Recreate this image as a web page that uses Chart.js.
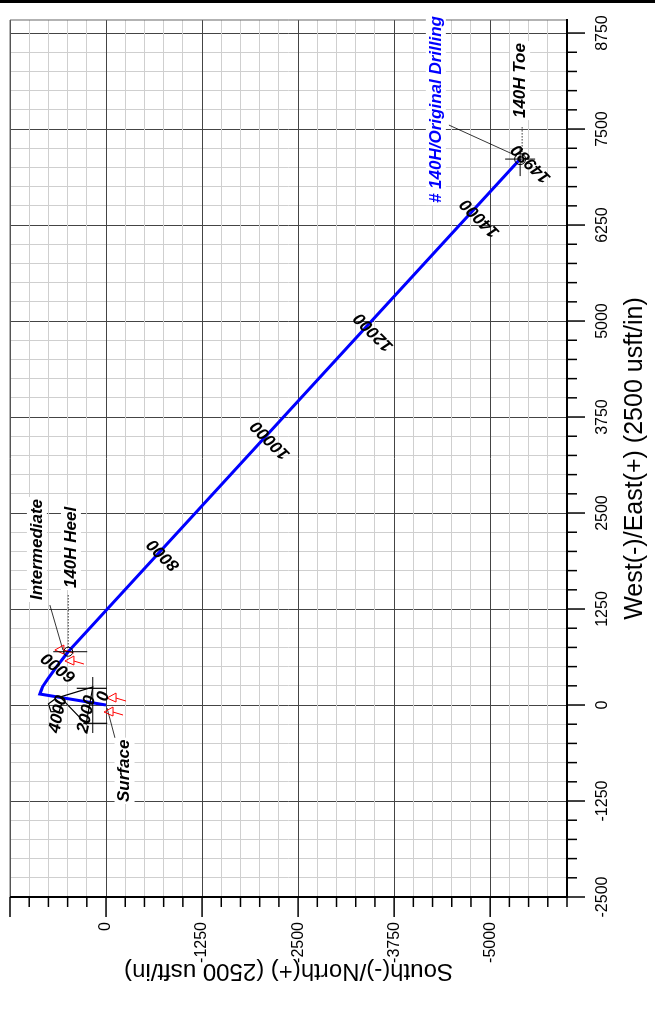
<!DOCTYPE html>
<html>
<head>
<meta charset="utf-8">
<script src="https://cdn.jsdelivr.net/npm/chart.js@4.4.1/dist/chart.umd.min.js"></script>
<style>
html, body { margin: 0; padding: 0; background: #fff; overflow: hidden; }
#wrap { position: absolute; left: 0; top: 0; width: 1011px; height: 655px;
        transform-origin: 0 0; transform: translate(0px, 1011px) rotate(-90deg); }
</style>
</head>
<body>
<div id="wrap"><canvas id="plan" width="1011" height="655"></canvas></div>
<script>
// plan view of the well path, usft (x = West(-)/East(+), y = South(-)/North(+))
const pathEW = [0, 143, 200, 238, 300, 348, 420, 499, 594, 694, 7109];
const pathNS = [0, 861, 840, 826, 786, 753, 700, 643, 570, 492, -5390];

// axis labels
const ewTicks = [-2500, -1250, 0, 1250, 2500, 3750, 5000, 6250, 7500, 8750];
const nsTicks = [0, -1250, -2500, -3750, -5000];

// measured depth labels along the path
const mdLabels = ['0', '2000', '4000', '6000', '8000', '10000', '12000', '14000', '14980'];
const mdEW = [111, -121, -121, 491, 1953, 3450, 4856, 6341, 7050];
const mdNS = [33, 252, 622, 613, -748, -2140, -3484, -4868, -5533];

// heel / toe targets
const targetEW = [694, 7109];
const targetNS = [492, -5390];

// casing points
const casingEW = [91, -91, 716, 573];
const casingNS = [-13, 26, 666, 535];

// text notes
const noteLabels = ['Surface', 'Intermediate', '140H Heel', '140H Toe', '# 140H/Original Drilling'];
const noteEW = [-1263, 1367, 1523, 7643, 6536];
const noteNS = [-241, 900, 457, -5390, -4293];

const FONT = '"Liberation Sans", Arial, sans-serif';
Chart.defaults.font.family = FONT;
Chart.defaults.color = '#000';

function seg(ctx, x1, y1, x2, y2) {
    ctx.beginPath();
    ctx.moveTo(x1, y1);
    ctx.lineTo(x2, y2);
    ctx.stroke();
}

const decor = {
    id: 'decor',
    afterDatasetsDraw(chart) {
        const ctx = chart.ctx;
        const a = chart.chartArea;
        const x = chart.scales.x;
        const y = chart.scales.y;
        const px = v => x.getPixelForValue(v);
        const py = v => y.getPixelForValue(v);

        ctx.save();
        // frame
        ctx.strokeStyle = '#666';
        ctx.lineWidth = 1;
        seg(ctx, a.left, a.top, a.right, a.top);
        seg(ctx, a.right, a.top, a.right, a.bottom);
        ctx.strokeStyle = '#000';
        ctx.lineWidth = 2;
        seg(ctx, a.left, a.bottom, a.right + 1, a.bottom);
        seg(ctx, a.left, a.top, a.left, a.bottom + 1);

        // outer tick marks
        ctx.lineWidth = 1.5;
        x.ticks.forEach(t => {
            const p = px(t.value);
            const len = t.value % 1250 === 0 ? 18 : 10;
            seg(ctx, p, a.bottom, p, a.bottom + len);
        });
        y.ticks.forEach(t => {
            const p = py(t.value);
            const len = t.value % 1250 === 0 ? 20 : 10;
            seg(ctx, a.left, p, a.left - len, p);
        });

        // sheet border line
        ctx.fillStyle = '#000';
        ctx.fillRect(chart.width - 3, 0, 3, chart.height);

        // structure near surface (drawn in the page's frame)
        ctx.save();
        ctx.translate(px(0), py(0));
        ctx.rotate(Math.PI / 2);
        ctx.strokeStyle = '#000';
        ctx.lineWidth = 1.2;
        seg(ctx, -13.3, -28, -13.3, 28);
        seg(ctx, -29.3, -16.7, 0.7, -16.7);
        seg(ctx, -22.7, 18.3, 1.3, 18.3);
        ctx.beginPath();
        ctx.moveTo(-46, -8);
        ctx.lineTo(-13.3, -18);
        ctx.lineTo(-20, 19);
        ctx.closePath();
        ctx.stroke();
        ctx.beginPath();
        for (let i = 0; i < 5; i++) {
            const ang = -Math.PI / 2 + i * 2 * Math.PI / 5;
            const ux = -51 + 7 * Math.cos(ang), uy = 1 + 7 * Math.sin(ang);
            if (i === 0) ctx.moveTo(ux, uy); else ctx.lineTo(ux, uy);
        }
        ctx.closePath();
        ctx.stroke();
        ctx.restore();

        // leader lines
        ctx.strokeStyle = '#000';
        ctx.lineWidth = 0.8;
        const leaders = [
            [-39, -13, -430, -117, false],
            [1302, 731, 716, 561, false],
            [1432, 492, 742, 492, true],
            [7526, -5416, 7200, -5416, true],
            [7552, -4463, 7148, -5350, false]
        ];
        leaders.forEach(l => {
            ctx.setLineDash(l[4] ? [1.5, 1.5] : []);
            seg(ctx, px(l[0]), py(l[1]), px(l[2]), py(l[3]));
        });
        ctx.setLineDash([]);

        // casing flags
        ctx.strokeStyle = '#ff0000';
        ctx.lineWidth = 1;
        casingEW.forEach((e, i) => {
            ctx.save();
            ctx.translate(px(e), py(casingNS[i]));
            ctx.rotate(Math.PI / 2);
            ctx.beginPath();
            ctx.moveTo(0, 0);
            ctx.lineTo(9, -5);
            ctx.lineTo(9, 4);
            ctx.closePath();
            ctx.stroke();
            seg(ctx, 9, 0, 19, 3);
            ctx.restore();
        });

        // heel and toe markers
        ctx.strokeStyle = '#000';
        ctx.lineWidth = 1;
        const hx = px(targetEW[0]), hy = py(targetNS[0]);
        ctx.beginPath();
        ctx.arc(hx, hy, 4.5, 0, Math.PI * 2);
        ctx.stroke();
        seg(ctx, hx, hy - 15, hx, hy + 19);
        const tx = px(targetEW[1]), ty = py(targetNS[1]);
        ctx.beginPath();
        ctx.arc(tx, ty, 5.5, 0, Math.PI * 2);
        ctx.stroke();
        seg(ctx, tx, ty - 15, tx, ty + 15);
        seg(ctx, tx - 17, ty, tx + 13, ty);

        // MD labels, across the path
        ctx.fillStyle = '#000';
        ctx.font = 'italic bold 17px ' + FONT;
        ctx.textAlign = 'center';
        ctx.textBaseline = 'middle';
        mdLabels.forEach((s, i) => {
            ctx.save();
            ctx.translate(px(mdEW[i]), py(mdNS[i]));
            ctx.rotate((i < 3 ? 12 : (i === 3 ? -52 : -45)) * Math.PI / 180);
            ctx.fillText(s, 0, 0);
            ctx.restore();
        });

        // notes
        ctx.font = 'italic bold 17px ' + FONT;
        ctx.textAlign = 'left';
        noteLabels.forEach((s, i) => {
            const nx = px(noteEW[i]), ny = py(noteNS[i]);
            const w = ctx.measureText(s).width;
            ctx.fillStyle = '#fff';
            ctx.fillRect(nx - 2, ny - 10, w + 4, 20);
            ctx.fillStyle = i === 4 ? '#0000ff' : '#000';
            ctx.fillText(s, nx, ny);
        });
        ctx.restore();
    }
};

new Chart(document.getElementById('plan'), {
    type: 'scatter',
    data: {
        datasets: [{
            data: pathEW.map((e, i) => ({ x: e, y: pathNS[i] })),
            showLine: true,
            borderColor: '#0000ff',
            borderWidth: 3,
            pointRadius: 0,
            tension: 0,
            fill: false
        }]
    },
    options: {
        responsive: false,
        animation: false,
        layout: { padding: { top: 10, right: 20, left: 0, bottom: 0 } },
        plugins: { legend: { display: false }, tooltip: { enabled: false } },
        scales: {
            x: {
                type: 'linear',
                position: 'bottom',
                min: -2500,
                max: 8920,
                afterFit: s => { s.height = 88; s.paddingLeft = 0; s.paddingRight = 0; },
                ticks: {
                    stepSize: 250, autoSkip: false, maxRotation: 0, minRotation: 0,
                    includeBounds: false, padding: 26, color: '#000',
                    font: { size: 16 },
                    callback: v => ewTicks.includes(v) ? String(v) : ''
                },
                grid: {
                    drawTicks: false,
                    lineWidth: 1,
                    color: c => (c.tick && c.tick.value % 1250 === 0) ? '#444444' : '#cfcfcf'
                },
                border: { display: false },
                title: {
                    display: true, text: 'West(-)/East(+) (2500 usft/in)',
                    font: { size: 25 }, color: '#000', padding: { top: 0, bottom: 5 }
                }
            },
            y: {
                type: 'linear',
                min: -6000,
                max: 1250,
                afterFit: s => { s.width = 114; s.paddingTop = 0; s.paddingBottom = 0; },
                ticks: {
                    stepSize: 250, autoSkip: false, includeBounds: false,
                    padding: 25, color: '#000', font: { size: 16 },
                    callback: v => nsTicks.includes(v) ? String(v) : ''
                },
                grid: {
                    drawTicks: false,
                    lineWidth: 1,
                    color: c => (c.tick && c.tick.value % 1250 === 0) ? '#444444' : '#cfcfcf'
                },
                border: { display: false },
                title: {
                    display: true, text: 'South(-)/North(+) (2500 usft/in)',
                    font: { size: 24 }, color: '#000', padding: { top: 26, bottom: 0 }
                }
            }
        }
    },
    plugins: [decor]
});
</script>
</body>
</html>
